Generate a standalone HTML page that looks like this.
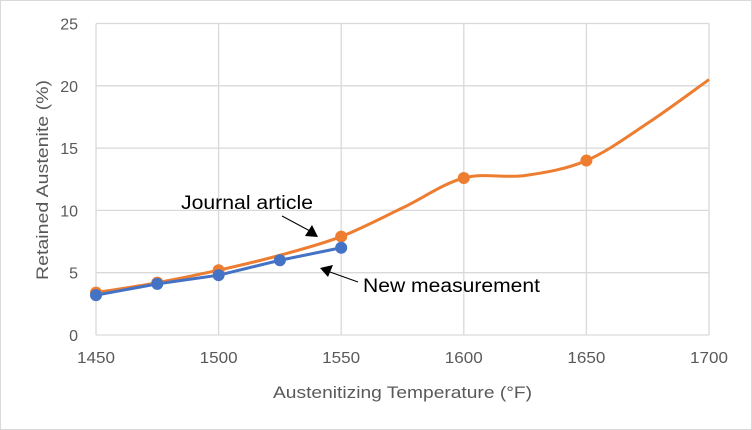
<!DOCTYPE html>
<html><head><meta charset="utf-8"><style>
html,body{margin:0;padding:0;background:#fff}
svg{display:block}
text{font-family:"Liberation Sans",sans-serif}
</style></head><body>
<svg id="s" width="752" height="430" xmlns="http://www.w3.org/2000/svg">
<rect x="0.5" y="0.5" width="751" height="429" fill="#fff" stroke="#d9d9d9"/>
<g id="grid" stroke="#d9d9d9" stroke-width="1.3"></g>
<g id="lab" font-size="16" fill="#595959"></g>
<text x="273" y="398" font-size="17" fill="#595959" textLength="259" lengthAdjust="spacingAndGlyphs">Austenitizing Temperature (°F)</text>
<text transform="translate(48,180) rotate(-90)" font-size="17" fill="#595959" text-anchor="middle" textLength="200" lengthAdjust="spacingAndGlyphs">Retained Austenite (%)</text>
<path id="or" fill="none" stroke="#ed7d31" stroke-width="3"/>
<path id="bl" fill="none" stroke="#4472c4" stroke-width="3"/>
<g id="mk"></g>
<text x="181" y="209" font-size="19" fill="#000" textLength="132" lengthAdjust="spacingAndGlyphs">Journal article</text>
<text x="363" y="292" font-size="19" fill="#000" textLength="177" lengthAdjust="spacingAndGlyphs">New measurement</text>
<line x1="282" y1="216" x2="310" y2="231" stroke="#000"/>
<polygon points="318,237 305,236 312,225" fill="#000"/>
<line x1="358" y1="282" x2="330" y2="272" stroke="#000"/>
<polygon points="320,268 333,265 328,277" fill="#000"/>
</svg>
<script>
var X=function(v){return 96+(v-1450)*2.452},Y=function(v){return 335-v*12.46};
var g=document.getElementById('grid'),l=document.getElementById('lab'),h='',t='';
for(var i=0;i<=5;i++){var y=Y(i*5);h+='<line x1="96" x2="709" y1="'+y+'" y2="'+y+'"/>';t+='<text x="78" y="'+(y+6)+'" text-anchor="end">'+i*5+'</text>';}
for(var i=0;i<=5;i++){var x=X(1450+i*50);h+='<line y1="23.5" y2="335" x1="'+x+'" x2="'+x+'"/>';t+='<text x="'+x+'" y="363" text-anchor="middle" textLength="38" lengthAdjust="spacingAndGlyphs" dx="-19" style="text-anchor:start">'+(1450+i*50)+'</text>';}
g.innerHTML=h;l.innerHTML=t;
function cr(p){var d='M'+p[0][0]+','+p[0][1];for(var i=0;i<p.length-1;i++){var a=p[i-1]||p[i],b=p[i],c=p[i+1],e=p[i+2]||c;
d+=' C'+(b[0]+(c[0]-a[0])/6)+','+(b[1]+(c[1]-a[1])/6)+' '+(c[0]-(e[0]-b[0])/6)+','+(c[1]-(e[1]-b[1])/6)+' '+c[0]+','+c[1];}return d;}
var o=[[1450,3.4],[1475,4.2],[1500,5.2],[1525,6.4],[1550,7.9],[1575,10.2],[1600,12.6],[1625,12.8],[1650,14.0],[1675,17.0],[1700,20.5]].map(function(q){return [X(q[0]),Y(q[1])]});
var b=[[1450,3.2],[1475,4.1],[1500,4.8],[1525,6.0],[1550,7.0]].map(function(q){return [X(q[0]),Y(q[1])]});
document.getElementById('or').setAttribute('d',cr(o));
var bd='M'+b.map(function(q){return q[0]+','+q[1]}).join(' L');document.getElementById('bl').setAttribute('d',bd);
var m='';[0,1,2,4,6,8].forEach(function(i){m+='<circle cx="'+o[i][0]+'" cy="'+o[i][1]+'" r="6" fill="#ed7d31"/>'});
b.forEach(function(q){m+='<circle cx="'+q[0]+'" cy="'+q[1]+'" r="6" fill="#4472c4"/>'});
document.getElementById('mk').innerHTML=m;
</script>
</body></html>
